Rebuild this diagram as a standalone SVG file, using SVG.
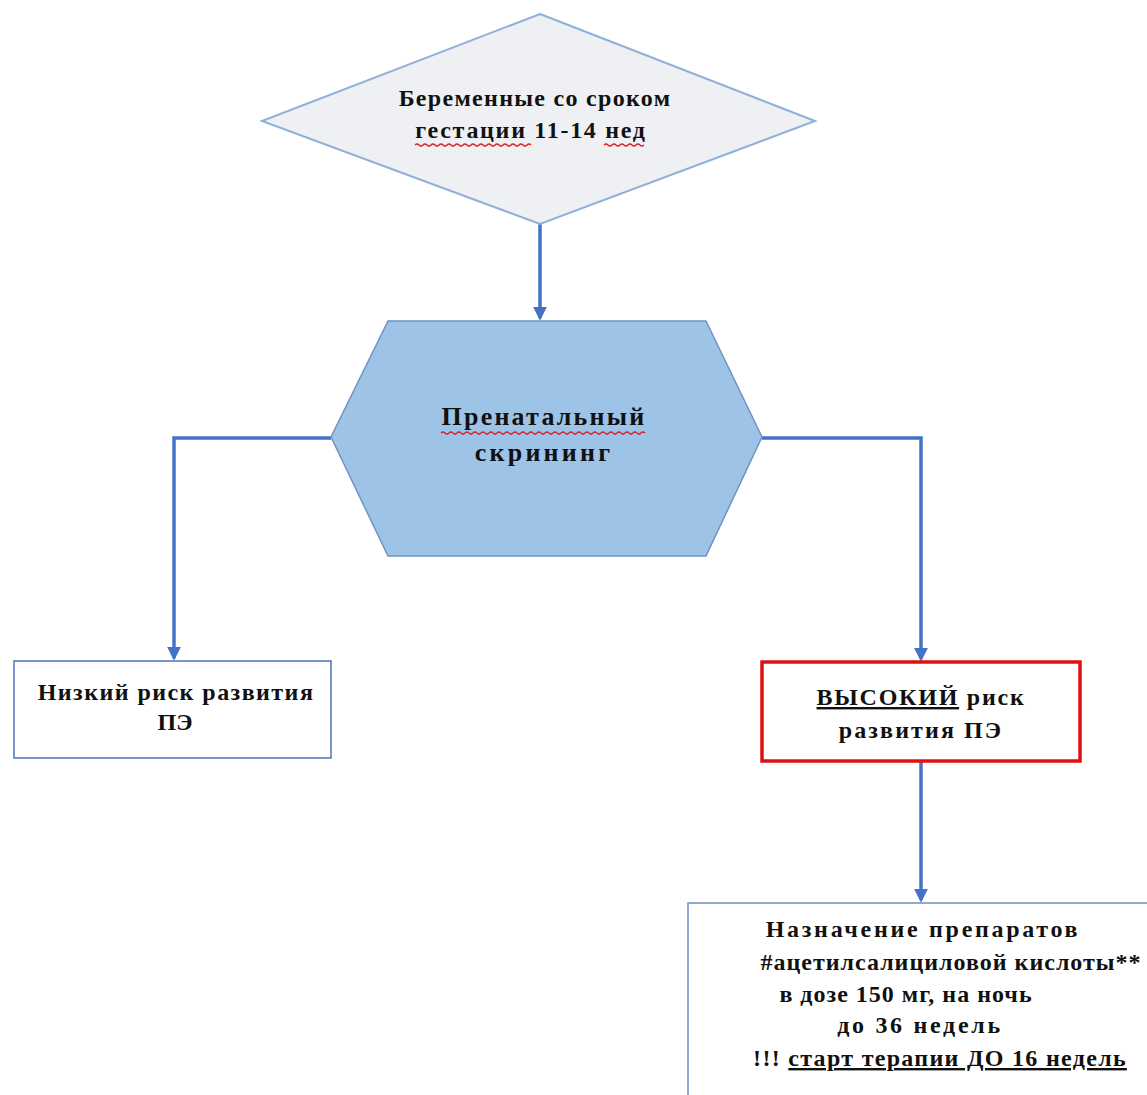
<svg xmlns="http://www.w3.org/2000/svg" width="1147" height="1095" viewBox="0 0 1147 1095">
<style>
text{font-family:"Liberation Serif","Times New Roman",serif;font-weight:bold;font-size:24px;fill:#111;text-anchor:middle}
.big{font-size:26px}
.conn{fill:none;stroke:#4472c4;stroke-width:3.5}
.sq{fill:none;stroke:#e02020;stroke-width:1.3}
</style>
<defs>
<marker id="ah" viewBox="0 0 10 10" refX="8" refY="5" markerWidth="4" markerHeight="4" orient="auto">
<path d="M0,0 L10,5 L0,10 z" fill="#4472c4"/>
</marker>
</defs>
<rect width="1147" height="1095" fill="#fff"/>
<g id="connectors">
<path class="conn" d="M540,224 V318" marker-end="url(#ah)"/>
<path class="conn" d="M331,438 H174 V658" marker-end="url(#ah)"/>
<path class="conn" d="M762,438 H921 V659" marker-end="url(#ah)"/>
<path class="conn" d="M921,762 V900" marker-end="url(#ah)"/>
</g>
<g id="start">
<polygon points="540,14 815,121 540,224 262,121" fill="#eef0f3" stroke="#8fb0d8" stroke-width="2"/>
<text x="535" y="106" letter-spacing="1.3">Беременные со сроком</text>
<text x="531" y="138" letter-spacing="1.7">гестации 11-14 нед</text>
<path class="sq" d="M415,145 q2,-2 4,0 t4,0 t4,0 t4,0 t4,0 t4,0 t4,0 t4,0 t4,0 t4,0 t4,0 t4,0 t4,0 t4,0 t4,0 t4,0 t4,0 t4,0 t4,0 t4,0 t4,0 t4,0 t4,0 t4,0 t4,0 t4,0 t4,0 t4,0 t4,0"/>
<path class="sq" d="M604,145 q2,-2 4,0 t4,0 t4,0 t4,0 t4,0 t4,0 t4,0 t4,0 t4,0 t4,0"/>
</g>
<g id="screening">
<polygon points="388,321 706,321 762,437 706,556 388,556 331,437" fill="#9dc3e6" stroke="#6f93c4" stroke-width="1.5"/>
<text class="big" x="544" y="425" letter-spacing="2.2">Пренатальный</text>
<text class="big" x="544" y="461" letter-spacing="3.2">скрининг</text>
<path class="sq" d="M441,433 q2,-2 4,0 t4,0 t4,0 t4,0 t4,0 t4,0 t4,0 t4,0 t4,0 t4,0 t4,0 t4,0 t4,0 t4,0 t4,0 t4,0 t4,0 t4,0 t4,0 t4,0 t4,0 t4,0 t4,0 t4,0 t4,0 t4,0 t4,0 t4,0 t4,0 t4,0 t4,0 t4,0 t4,0 t4,0 t4,0 t4,0 t4,0 t4,0 t4,0 t4,0 t4,0 t4,0 t4,0 t4,0 t4,0 t4,0 t4,0 t4,0 t4,0 t4,0 t4,0"/>
</g>
<g id="low">
<rect x="14" y="661" width="317" height="97" fill="#fff" stroke="#4d74b8" stroke-width="1.5"/>
<text x="176" y="700" letter-spacing="1.45">Низкий риск развития</text>
<text x="175" y="730">ПЭ</text>
</g>
<g id="high">
<rect x="762" y="662" width="318" height="99" fill="#fff" stroke="#e01010" stroke-width="3.5"/>
<text x="921" y="705" letter-spacing="1.75"><tspan text-decoration="underline">ВЫСОКИЙ</tspan> риск</text>
<text x="921" y="738" letter-spacing="2.1">развития ПЭ</text>
</g>
<g id="therapy">
<rect x="688" y="903" width="470" height="200" fill="#fff" stroke="#6f8fbf" stroke-width="1.5"/>
<text x="923" y="937" letter-spacing="2.7">Назначение препаратов</text>
<text x="951" y="970" letter-spacing="1">#ацетилсалициловой кислоты**</text>
<text x="906" y="1002" letter-spacing="1">в дозе 150 мг, на ночь</text>
<text x="920" y="1033" letter-spacing="2.7">до 36 недель</text>
<text x="940" y="1066" letter-spacing="1.3">!!! <tspan text-decoration="underline">старт терапии ДО 16 недель</tspan></text>
</g>
</svg>
